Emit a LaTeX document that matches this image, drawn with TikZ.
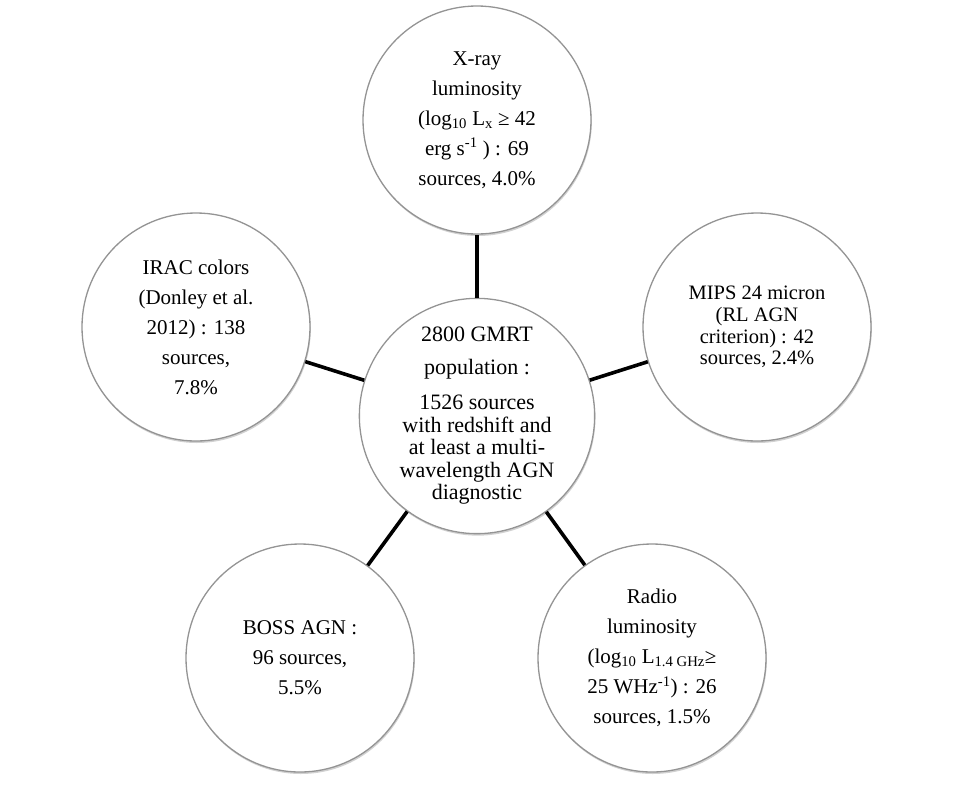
\documentclass[tikz,border=0pt]{standalone}
\usepackage{fontspec}
\setmainfont{Liberation Serif}
\usetikzlibrary{shadows}
\begin{document}
\begin{tikzpicture}[x=1pt,y=-1pt,
  bubble/.style={circle, draw=black!42, line width=1.3pt, fill=white,
    minimum size=228pt, inner sep=0pt, align=center,
    drop shadow={shadow xshift=0.8pt, shadow yshift=-2pt, fill=black!30, opacity=0.6}},
  outer/.style={bubble, font=\fontsize{21}{30}\selectfont},
  tight/.style={bubble, font=\fontsize{20.5}{21.7}\selectfont},
  central/.style={bubble, font=\fontsize{22}{22.5}\selectfont},
  conn/.style={line width=3.6pt, black}]
\useasboundingbox (0,0) rectangle (955,785);

\node[central] (c) at (477,416) {2800 GMRT\\[10.5pt]population :\\[12.5pt]1526 sources\\with redshift and\\at least a multi-\\wavelength AGN\\diagnostic};

\node[outer] (top) at (477,120) {X-ray\\luminosity\\(log\textsubscript{10} L\textsubscript{x} ≥ 42\\erg s\textsuperscript{-1} ) : 69\\sources, 4.0\%};

\node[outer] (left) at (196,327) {IRAC colors\\(Donley et al.\\2012) : 138\\sources,\\7.8\%};

\node[tight] (right) at (757,327) {MIPS 24 micron\\(RL AGN\\criterion) : 42\\sources, 2.4\%};

\node[outer] (bl) at (300,658) {BOSS AGN :\\96 sources,\\5.5\%};

\node[outer] (br) at (652,658) {Radio\\luminosity\\(log\textsubscript{10} L\textsubscript{1.4 GHz}≥\\25 WHz\textsuperscript{-1}) : 26\\sources, 1.5\%};

\draw[conn] (c) -- (top);
\draw[conn] (c) -- (left);
\draw[conn] (c) -- (right);
\draw[conn] (c) -- (bl);
\draw[conn] (c) -- (br);
\end{tikzpicture}
\end{document}
